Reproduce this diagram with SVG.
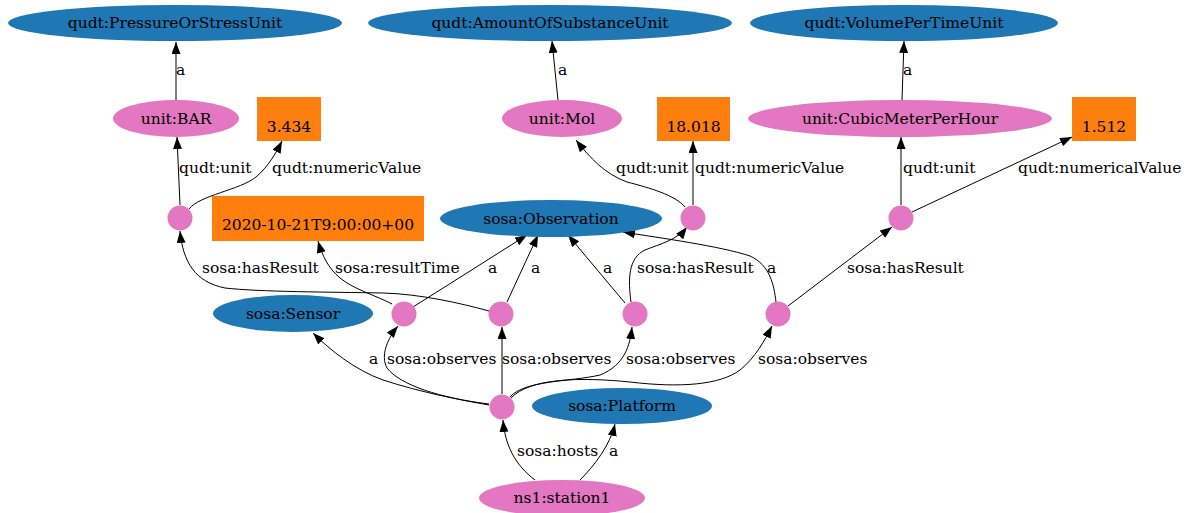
<svg xmlns="http://www.w3.org/2000/svg" width="1187" height="513" viewBox="0 0 1187 513">
<style>
text{font-family:"DejaVu Serif",serif;font-size:15.5px;fill:#000}
.c{text-anchor:middle}
.b{fill:#1f77b4}
.p{fill:#e377c2}
.o{fill:#ff7f0e}
.e path{fill:none;stroke:#000;stroke-width:1;marker-end:url(#ah)}
</style>
<defs>
<marker id="ah" markerUnits="userSpaceOnUse" markerWidth="13" markerHeight="10" refX="12" refY="4.5" orient="auto">
<path d="M0,0 L12,4.5 L0,9 z" fill="#000"/>
</marker>
</defs>
<rect width="1187" height="513" fill="#fff"/>
<g id="edges" class="e">
<path d="M176,100 L176,42"/>
<path d="M558,100 L552,41"/>
<path d="M902,100 L904,41"/>
<path d="M180,205 L177,137"/>
<path d="M189,209 C200,195 240,190 256,177 C268,167 276,153 282,141"/>
<path d="M685,207 C675,195 650,188 627,182 C605,174 590,158 576,140"/>
<path d="M693,205 L693,141"/>
<path d="M901,205 L901,137"/>
<path d="M912,212 L1072,137"/>
<path d="M489,311 C460,303 420,294 383,293 C330,292 260,292 225,288 C195,282 183,262 180,231"/>
<path d="M392,304 C375,295 355,290 340,278 C328,268 322,255 318,241"/>
<path d="M413,307 L527,235"/>
<path d="M507,302 L538,235"/>
<path d="M625,303 L568,235"/>
<path d="M631,302 C628,280 628,258 645,250 C660,244 677,240 687,227"/>
<path d="M776,302 C774,285 770,265 750,256 C720,246 660,238 623,232"/>
<path d="M788,306 L892,227"/>
<path d="M489,405 C460,400 420,392 383,380 C355,370 330,350 313,333"/>
<path d="M489,404 C440,398 400,385 387,368 C380,355 388,338 398,326"/>
<path d="M502,394 L502,327"/>
<path d="M510,397 C525,380 570,382 600,375 C625,365 630,345 632,327"/>
<path d="M511,398 C530,378 580,377 630,382 C680,388 720,385 740,370 C755,358 765,340 772,326"/>
<path d="M535,480 C515,465 505,445 503,420"/>
<path d="M580,480 C595,465 610,445 615,424"/>
</g>
<g id="edge-labels">
<text x="176" y="75">a</text>
<text x="558" y="75">a</text>
<text x="903" y="75">a</text>
<text x="179" y="173">qudt:unit</text>
<text x="272" y="173">qudt:numericValue</text>
<text x="616" y="173">qudt:unit</text>
<text x="695" y="173">qudt:numericValue</text>
<text x="903" y="173">qudt:unit</text>
<text x="1018" y="173">qudt:numericalValue</text>
<text x="202" y="273">sosa:hasResult</text>
<text x="335" y="273">sosa:resultTime</text>
<text x="488" y="273">a</text>
<text x="531" y="273">a</text>
<text x="603" y="273">a</text>
<text x="637" y="273">sosa:hasResult</text>
<text x="767" y="273">a</text>
<text x="847" y="273">sosa:hasResult</text>
<text x="369" y="364">a</text>
<text x="387" y="364">sosa:observes</text>
<text x="502" y="364">sosa:observes</text>
<text x="626" y="364">sosa:observes</text>
<text x="758" y="364">sosa:observes</text>
<text x="517" y="456">sosa:hosts</text>
<text x="609" y="456">a</text>
</g>
<g id="n-pressure"><ellipse class="b" cx="175" cy="23" rx="167" ry="18"/><text class="c" x="175" y="28">qudt:PressureOrStressUnit</text></g>
<g id="n-amount"><ellipse class="b" cx="550" cy="23" rx="182" ry="18"/><text class="c" x="550" y="28">qudt:AmountOfSubstanceUnit</text></g>
<g id="n-volume"><ellipse class="b" cx="904" cy="23" rx="154" ry="18"/><text class="c" x="904" y="28">qudt:VolumePerTimeUnit</text></g>
<g id="n-bar"><ellipse class="p" cx="176" cy="118.5" rx="63" ry="18.5"/><text class="c" x="176" y="124">unit:BAR</text></g>
<g id="n-3434"><rect class="o" x="257" y="97" width="64" height="44"/><text class="c" x="289" y="132">3.434</text></g>
<g id="n-mol"><ellipse class="p" cx="562" cy="118.5" rx="60" ry="18.5"/><text class="c" x="562" y="124">unit:Mol</text></g>
<g id="n-18018"><rect class="o" x="657" y="97" width="73" height="44"/><text class="c" x="693.5" y="132">18.018</text></g>
<g id="n-cmh"><ellipse class="p" cx="900" cy="118.5" rx="152" ry="18.5"/><text class="c" x="900" y="124">unit:CubicMeterPerHour</text></g>
<g id="n-1512"><rect class="o" x="1072" y="97" width="64" height="44"/><text class="c" x="1104" y="132">1.512</text></g>
<g id="n-bn1"><circle class="p" cx="180" cy="218" r="12.5"/></g>
<g id="n-time"><rect class="o" x="212" y="196" width="212" height="45"/><text class="c" x="318" y="230">2020-10-21T9:00:00+00</text></g>
<g id="n-obs"><ellipse class="b" cx="551" cy="218.5" rx="111" ry="18.5"/><text class="c" x="551" y="224">sosa:Observation</text></g>
<g id="n-bn2"><circle class="p" cx="693" cy="218" r="12.5"/></g>
<g id="n-bn3"><circle class="p" cx="901" cy="218" r="12.5"/></g>
<g id="n-sensor"><ellipse class="b" cx="293" cy="313.5" rx="80" ry="18.5"/><text class="c" x="293" y="319">sosa:Sensor</text></g>
<g id="n-obs1"><circle class="p" cx="404" cy="314" r="12.5"/></g>
<g id="n-obs2"><circle class="p" cx="501" cy="314" r="12.5"/></g>
<g id="n-obs3"><circle class="p" cx="635" cy="314" r="12.5"/></g>
<g id="n-obs4"><circle class="p" cx="778" cy="314" r="12.5"/></g>
<g id="n-hub"><circle class="p" cx="502" cy="407" r="12.5"/></g>
<g id="n-platform"><ellipse class="b" cx="622" cy="406" rx="90" ry="18"/><text class="c" x="622" y="411">sosa:Platform</text></g>
<g id="n-station"><ellipse class="p" cx="562" cy="498" rx="83" ry="18"/><text class="c" x="562" y="503">ns1:station1</text></g>
</svg>
